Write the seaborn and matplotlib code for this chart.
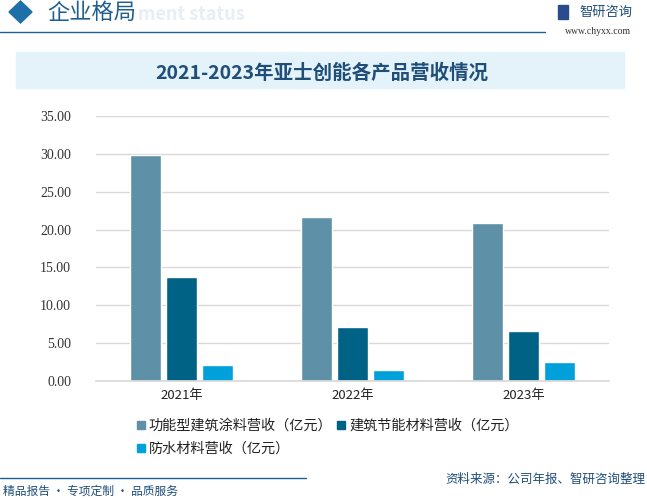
import numpy as np
import pandas as pd
import matplotlib
matplotlib.use("Agg")
import matplotlib.pyplot as plt
import seaborn as sns
from matplotlib.patches import Rectangle, Polygon
from matplotlib.lines import Line2D

# chart data
years = ["2021年", "2022年", "2023年"]
series_names = ["功能型建筑涂料营收（亿元）", "建筑节能材料营收（亿元）", "防水材料营收（亿元）"]
coating = [29.9, 21.7, 20.9]
energy_saving = [13.8, 7.1, 6.6]
waterproof = [2.1, 1.4, 2.5]
colors = ["#5E91A8", "#006285", "#00A0DA"]

df = pd.DataFrame({
    "year": years * 3,
    "series": np.repeat(series_names, len(years)),
    "value": coating + energy_saving + waterproof,
})

sns.set_theme(style="white")
plt.rcParams['font.family'] = ['Noto Sans CJK SC', 'DejaVu Sans']

W, H = 647, 500


def fx(px):
    return px / W


def fy(py):
    return 1 - py / H


fig = plt.figure(figsize=(6.47, 5.0), dpi=100)
ax = fig.add_axes([fx(96), fy(381), fx(513), 265 / H])

sns.barplot(data=df, x="year", y="value", hue="series", palette=colors,
            width=0.64, gap=0.15, ax=ax, legend=False, saturation=1)

ax.set_ylim(0, 35)
ticks = np.arange(0, 36, 5)
ax.set_yticks(ticks)
ax.set_yticklabels([f"{v:.2f}" for v in ticks], fontsize=10, color="#333333",
                   family=["Liberation Serif", "DejaVu Serif"])
ax.tick_params(axis="x", labelsize=9.5, colors="#222222", length=0, pad=6)
ax.tick_params(axis="y", length=0, pad=18)
ax.set_xlabel("")
ax.set_ylabel("")
ax.yaxis.grid(True, color="#D9D9D9", linewidth=1)
ax.set_axisbelow(True)
for s in ["top", "right", "left"]:
    ax.spines[s].set_visible(False)
ax.spines["bottom"].set_color("#D9D9D9")

# legend, ordered row by row
handles = [Line2D([0], [0], marker="s", color="none", markerfacecolor=c,
                  markeredgecolor=c, markersize=5.5) for c in colors]
order = [0, 2, 1]
fig.legend([handles[i] for i in order], [series_names[i] for i in order],
           loc="upper left", bbox_to_anchor=(fx(128), fy(412)),
           ncol=2, frameon=False, fontsize=10.2, handletextpad=0.15, columnspacing=0.25,
           labelspacing=0.6, handlelength=0.8, labelcolor="#222222", borderpad=0)

# title banner
fig.patches.append(Rectangle((fx(16), fy(88)), fx(608), 36 / H,
                             transform=fig.transFigure, color="#E4F2FA", zorder=0))
fig.text(fx(322), fy(73), "2021-2023年亚士创能各产品营收情况", ha="center", va="center",
         fontsize=14, fontweight="bold", color="#1F4E79")

# header
fig.patches.append(Polygon([(fx(9), fy(12)), (fx(20.5), fy(1)),
                            (fx(32), fy(12)), (fx(20.5), fy(23))],
                           closed=True, transform=fig.transFigure, color="#1F6FA8"))
fig.text(fx(138), fy(15), "ment status", ha="left", va="center", fontsize=13,
         fontweight="bold", color="#E6EFF6")
fig.text(fx(47), fy(12), "企业格局", ha="left", va="center", fontsize=16,
         color="#1F5F8F")
fig.add_artist(Line2D([0, fx(545)], [fy(32), fy(32)],
                      transform=fig.transFigure, color="#1F5F8F", linewidth=1))
fig.patches.append(Rectangle((fx(558), fy(19)), fx(10), 14 / H,
                             transform=fig.transFigure, color="#2B4C8C"))
fig.text(fx(579), fy(12), "智研咨询", ha="left", va="center", fontsize=9.5,
         color="#1F4E79")
fig.text(fx(631), fy(32), "www.chyxx.com", ha="right", va="center", fontsize=7,
         color="#333333", family=["Liberation Serif", "DejaVu Serif"])

# footer
fig.add_artist(Line2D([0, fx(306)], [fy(478), fy(478)],
                      transform=fig.transFigure, color="#1F5F8F", linewidth=1))
fig.text(fx(3), fy(491), "精品报告 · 专项定制 · 品质服务", ha="left", va="center",
         fontsize=8.5, color="#1F4E79")
fig.text(fx(645), fy(479), "资料来源：公司年报、智研咨询整理", ha="right", va="center",
         fontsize=9, color="#1F4E79")

fig.savefig("out.png", dpi=100)
